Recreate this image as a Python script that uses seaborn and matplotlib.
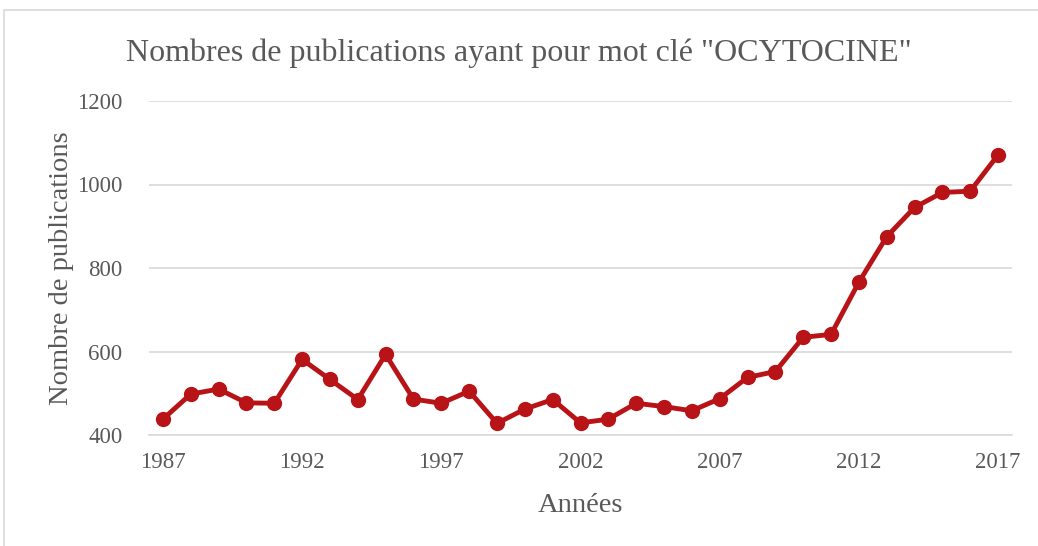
import matplotlib
matplotlib.use("Agg")
import matplotlib.pyplot as plt
import seaborn as sns
import pandas as pd
from matplotlib.patches import Rectangle

# Data
years = list(range(1987, 2018))
publications = [438, 498, 510, 477, 476, 581, 533, 485, 593, 486,
                476, 505, 428, 462, 485, 429, 438, 476, 468, 458,
                487, 538, 552, 634, 641, 766, 875, 945, 981, 984, 1071]
xtick_years = [1987, 1992, 1997, 2002, 2007, 2012, 2017]
ytick_values = [400, 600, 800, 1000, 1200]

df = pd.DataFrame({"Année": years, "Publications": publications})

sns.set_style("white")
plt.rcParams['font.family'] = ['Liberation Serif', 'DejaVu Serif']

text_col = "#595959"
line_col = "#B81317"

fig = plt.figure(figsize=(10.38, 5.46), dpi=100)
ax = fig.add_axes([149 / 1038, 1 - 435 / 546, (1012 - 149) / 1038, (435 - 101) / 546])

sns.lineplot(data=df, x="Année", y="Publications", ax=ax, color=line_col,
             linewidth=3.5, marker="o", markersize=11, markeredgewidth=0,
             zorder=3)

ax.set_xlim(1986.5, 2017.5)
ax.set_ylim(400, 1200)
ax.set_xticks(xtick_years)
ax.set_yticks(ytick_values)
ax.tick_params(axis="both", length=0, labelsize=16.5, labelcolor=text_col)
ax.tick_params(axis="x", pad=12)
ax.tick_params(axis="y", pad=19)
ax.grid(axis="y", color="#D9D9D9", linewidth=1.2, zorder=0)
ax.set_axisbelow(True)
for s in ["top", "right", "left"]:
    ax.spines[s].set_visible(False)
ax.spines["bottom"].set_color("#D9D9D9")
ax.spines["bottom"].set_linewidth(1.2)

ax.set_xlabel("Années", fontsize=20.5, color=text_col, labelpad=15)
ax.set_ylabel("Nombre de publications", fontsize=20.5, color=text_col, labelpad=2)
fig.text(0.5, 1 - 53 / 546, 'Nombres de publications ayant pour mot clé "OCYTOCINE"',
         ha="center", va="center", fontsize=23, color=text_col)

# chart frame
fig.patches.append(Rectangle((4 / 1038, -0.05), 1.1, 1 - 10 / 546 + 0.05,
                             transform=fig.transFigure, fill=False,
                             edgecolor="#D9D9D9", linewidth=1.2))

fig.savefig("out.png", dpi=100)
